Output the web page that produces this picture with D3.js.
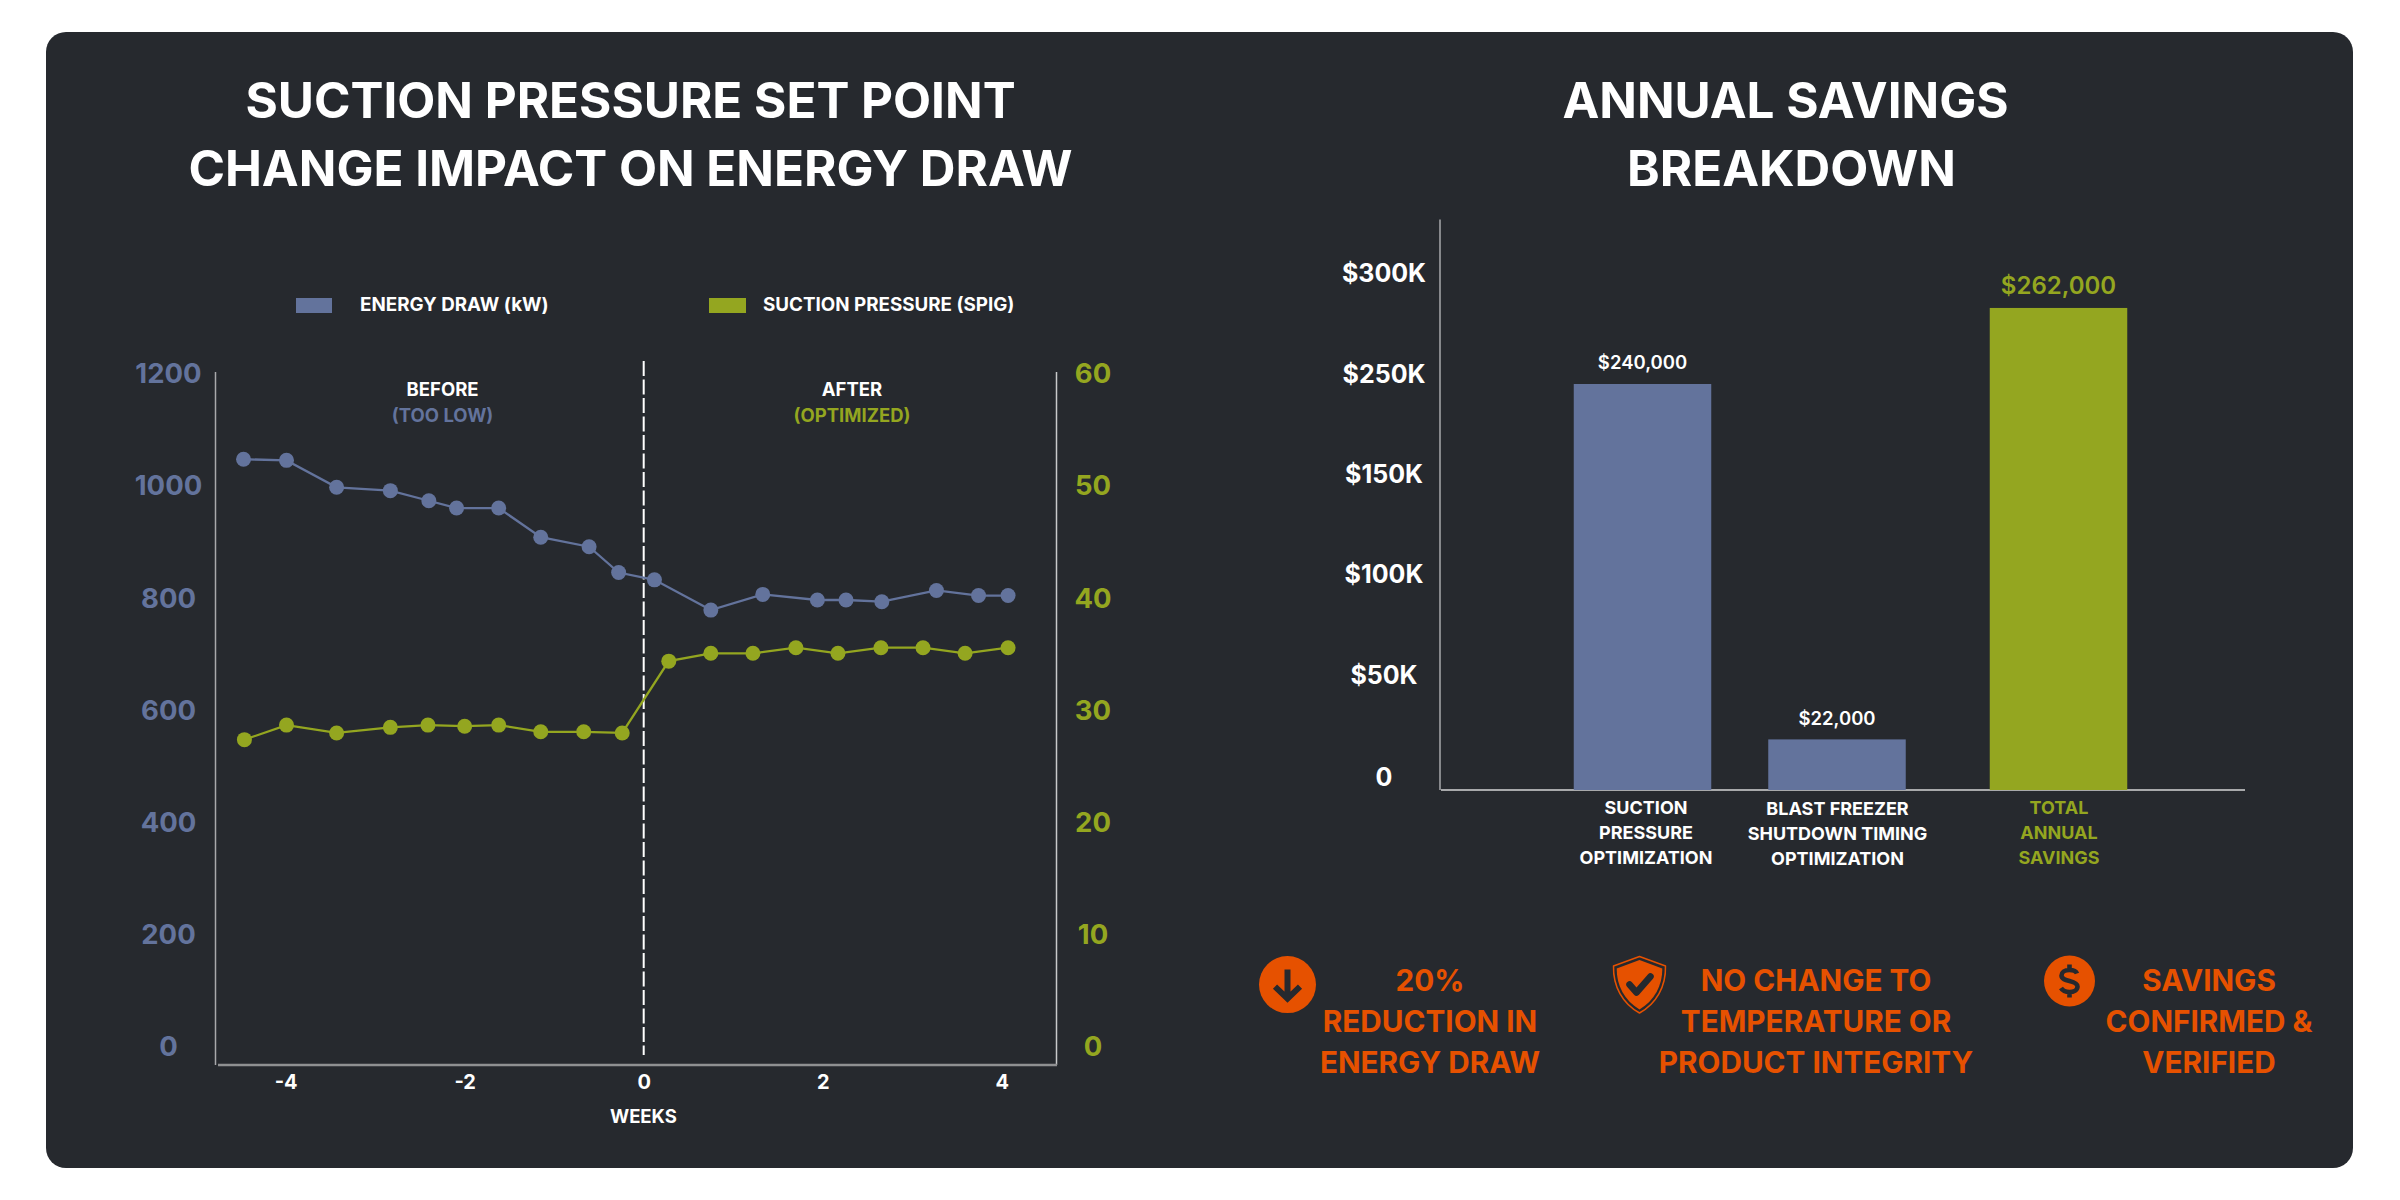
<!DOCTYPE html>
<html>
<head>
<meta charset="utf-8">
<script src="https://cdn.jsdelivr.net/npm/d3@7"></script>
<style>
  html, body { margin: 0; background: #fff; }
  svg { display: block; font-family: Inter, "Noto Sans", sans-serif; font-weight: 700; }
  .axis .domain { display: none; }
</style>
</head>
<body>
<div id="chart"></div>
<script>
// left chart: weeks, each series has its own sampling
const energyWeeks = [-4.47, -3.99, -3.43, -2.83, -2.40, -2.09, -1.62, -1.15, -0.61, -0.28, 0.12, 0.75, 1.33, 1.94, 2.26, 2.66, 3.27, 3.74, 4.07];
const energyValues = [1048, 1046, 998, 992, 974, 961, 961, 909, 892, 846, 833, 779, 807, 797, 797, 794, 814, 805, 805];
const pressureWeeks = [-4.46, -3.99, -3.43, -2.83, -2.41, -2.00, -1.62, -1.15, -0.67, -0.24, 0.28, 0.75, 1.22, 1.70, 2.17, 2.65, 3.12, 3.59, 4.07];
const pressureValues = [27.4, 28.7, 28.0, 28.5, 28.7, 28.6, 28.7, 28.1, 28.1, 28.0, 34.4, 35.1, 35.1, 35.6, 35.1, 35.6, 35.6, 35.1, 35.6];
const energyTicks = [0, 200, 400, 600, 800, 1000, 1200];
const pressureTicks = [0, 10, 20, 30, 40, 50, 60];
const weekTicks = [-4, -2, 0, 2, 4];

// right chart: the axis skips $200K, and the total bar stands taller than its label says
const barCategories = [["SUCTION", "PRESSURE", "OPTIMIZATION"], ["BLAST FREEZER", "SHUTDOWN TIMING", "OPTIMIZATION"], ["TOTAL", "ANNUAL", "SAVINGS"]];
const barHeights = [240000, 22000, 282700];
const barLabels = ["$240,000", "$22,000", "$262,000"];
const savingsTicks = [0, 50000, 100000, 150000, 250000, 300000];
const savingsTickLabels = ["0", "$50K", "$100K", "$150K", "$250K", "$300K"];

const notes = [["20%", "REDUCTION IN", "ENERGY DRAW"], ["NO CHANGE TO", "TEMPERATURE OR", "PRODUCT INTEGRITY"], ["SAVINGS", "CONFIRMED &", "VERIFIED"]];

const bg = "#26292e", blue = "#63739c", olive = "#94a620", orange = "#e65100", white = "#ffffff";

const svg = d3.select("#chart").append("svg").attr("width", 2400).attr("height", 1200);

svg.append("rect").attr("x", 46).attr("y", 32).attr("width", 2307).attr("height", 1136).attr("rx", 20).attr("fill", bg);

function lines(x, ys, rows, size, color, weight) {
  rows.forEach((t, i) => {
    svg.append("text").attr("x", x).attr("y", ys[i]).attr("dy", "0.36em")
      .attr("text-anchor", "middle").attr("font-size", size).attr("font-weight", weight || 700).attr("fill", color).text(t);
  });
}

lines(630.5, [100, 168], ["SUCTION PRESSURE SET POINT", "CHANGE IMPACT ON ENERGY DRAW"], 49.4, white);
lines(1785.5, [100], ["ANNUAL SAVINGS"], 49.4, white);
lines(1791.5, [168], ["BREAKDOWN"], 49.4, white);

// ---- left chart
const xWeek = d3.scaleLinear().domain([-4, 4]).range([285.6, 1001.8]);
const yEnergy = d3.scaleLinear().domain([0, 1200]).range([1047, 374]);
const yPressure = d3.scaleLinear().domain([0, 60]).range([1047, 374]);

const frame = svg.append("g").attr("fill", "none");
frame.append("path").attr("d", "M215.5,372V1065").attr("stroke", "#a8a9ab").attr("stroke-width", 1.5);
frame.append("path").attr("d", "M1056.5,372V1065").attr("stroke", "#c8c9cb").attr("stroke-width", 1.5);
frame.append("path").attr("d", "M218,1065H1057").attr("stroke", "#8f9092").attr("stroke-width", 2.5);

function axisText(g, size, color) {
  g.selectAll("text").attr("font-size", size).attr("fill", color).attr("text-anchor", "middle")
    .attr("font-family", "Inter").attr("font-weight", 700).attr("x", 0);
}

svg.append("g").attr("class", "axis").attr("transform", "translate(168.5,0)")
  .call(d3.axisLeft(yEnergy).tickValues(energyTicks).tickSize(0).tickPadding(0).tickFormat(String))
  .call(axisText, 27.5, blue);
svg.append("g").attr("class", "axis").attr("transform", "translate(1093,0)")
  .call(d3.axisRight(yPressure).tickValues(pressureTicks).tickSize(0).tickPadding(0).tickFormat(String))
  .call(axisText, 27.5, olive);
svg.append("g").attr("class", "axis").attr("transform", "translate(0,1068)")
  .call(d3.axisBottom(xWeek).tickValues(weekTicks).tickSize(0).tickPadding(7).tickFormat(String))
  .call(g => g.selectAll("text").attr("font-size", 20).attr("fill", white).attr("font-family", "Inter").attr("font-weight", 700));
d3.selectAll(".axis .tick line").remove();

lines(643.4, [1116], ["WEEKS"], 18.5, white);

svg.append("path").attr("d", `M${xWeek(0)},361V1055`).attr("stroke", white).attr("stroke-width", 2).attr("stroke-dasharray", "15,3.5").attr("fill", "none");

lines(442.6, [389], ["BEFORE"], 18.5, white);
lines(442.6, [415], ["(TOO LOW)"], 18.5, blue);
lines(852, [389], ["AFTER"], 18.5, white);
lines(852, [415], ["(OPTIMIZED)"], 18.5, olive);

svg.append("rect").attr("x", 296).attr("y", 298).attr("width", 36).attr("height", 15).attr("fill", blue);
svg.append("rect").attr("x", 709).attr("y", 298).attr("width", 37).attr("height", 15).attr("fill", olive);
svg.append("text").attr("x", 360).attr("y", 304).attr("dy", "0.36em").attr("font-size", 18.8).attr("fill", white).text("ENERGY DRAW (kW)");
svg.append("text").attr("x", 763).attr("y", 304).attr("dy", "0.36em").attr("font-size", 18.8).attr("fill", white).text("SUCTION PRESSURE (SPIG)");

function series(weeks, values, y, color) {
  const pts = weeks.map((w, i) => [w, values[i]]);
  const line = d3.line().x(d => xWeek(d[0])).y(d => y(d[1]));
  svg.append("path").datum(pts).attr("d", line).attr("fill", "none").attr("stroke", color).attr("stroke-width", 2.3);
  svg.append("g").selectAll("circle").data(pts).enter().append("circle")
    .attr("cx", d => xWeek(d[0])).attr("cy", d => y(d[1])).attr("r", 7.5).attr("fill", color);
}
series(energyWeeks, energyValues, yEnergy, blue);
series(pressureWeeks, pressureValues, yPressure, olive);

// ---- right chart
const xBar = d3.scaleOrdinal().domain([0, 1, 2]).range([1642.5, 1837, 2058.5]);
const barWidth = 137.5;
const ySavings = d3.scaleLinear().domain(savingsTicks).range([790, 675, 574, 474, 374, 273]);

svg.append("path").attr("d", "M1440,219.5V790").attr("stroke", "#c8c9cb").attr("stroke-width", 1.2).attr("fill", "none");
svg.append("path").attr("d", "M1441,790H2245").attr("stroke", "#a8a9ab").attr("stroke-width", 2).attr("fill", "none");

const savingsAxis = svg.append("g").attr("class", "axis").attr("transform", "translate(1384,0)")
  .call(d3.axisLeft(ySavings).tickValues(savingsTicks).tickSize(0).tickPadding(0).tickFormat((d, i) => savingsTickLabels[i]))
  .call(axisText, 25, white);
savingsAxis.selectAll(".tick line").remove();
// the zero label sits above the baseline
savingsAxis.selectAll(".tick").filter(d => d === 0).select("text").attr("y", -13);

svg.append("g").selectAll("rect").data(barHeights).enter().append("rect")
  .attr("x", (d, i) => xBar(i) - barWidth / 2)
  .attr("y", d => ySavings(d))
  .attr("width", barWidth)
  .attr("height", d => ySavings(0) - ySavings(d))
  .attr("fill", (d, i) => i === 2 ? olive : blue);

barLabels.forEach((t, i) => {
  const total = i === 2;
  lines(xBar(i), [ySavings(barHeights[i]) - (total ? 22.5 : 21.5)], [t], total ? 24 : 18.5, total ? olive : white, 600);
});

lines(1646, [807.6, 832.7, 857.5], barCategories[0], 18, white);
lines(1837.5, [808.4, 833.6, 858.3], barCategories[1], 18, white);
lines(2059, [807.6, 832.7, 857.5], barCategories[2], 18, olive);

// ---- callouts
lines(1430, [980.5, 1021, 1062], notes[0], 29.7, orange);
lines(1816, [980.5, 1021, 1062], notes[1], 29.7, orange);
lines(2209, [980.5, 1021, 1062], notes[2], 29.7, orange);

const arrowIcon = svg.append("g").attr("transform", "translate(1287.5,984.6)");
arrowIcon.append("circle").attr("r", 28.5).attr("fill", orange);
arrowIcon.append("path").attr("d", "M0,-15V13M-12.5,2L0,14L12.5,2").attr("fill", "none").attr("stroke", bg).attr("stroke-width", 6);

const shieldIcon = svg.append("g").attr("transform", "translate(1639.5,984.5)");
shieldIcon.append("path").attr("d", "M0,-28L26,-18.5C26.5,2 17,19 0,28.5C-17,19 -26.5,2 -26,-18.5Z").attr("fill", "none").attr("stroke", orange).attr("stroke-width", 1.5).attr("stroke-linejoin", "round");
shieldIcon.append("path").attr("d", "M0,-24.5L22.8,-16C23,1 15,16 0,25C-15,16 -23,1 -22.8,-16Z").attr("fill", orange);
shieldIcon.append("path").attr("d", "M-10,0L-3,8L11,-8").attr("fill", "none").attr("stroke", bg).attr("stroke-width", 6.5).attr("stroke-linecap", "round").attr("stroke-linejoin", "round");

const dollarIcon = svg.append("g").attr("transform", "translate(2069.5,981)");
dollarIcon.append("circle").attr("r", 25.5).attr("fill", orange);
dollarIcon.append("path").attr("d", "M7.5,-7.5C6.5,-10 3.5,-11 0,-11C-5,-11 -8,-8.5 -8,-5.5C-8,-2 -4,-1 0,0C4,1 8,2.2 8,5.5C8,8.8 4.5,11 0,11C-4,11 -7,9.5 -8.5,7M0,-16.5V-11M0,11V16.5").attr("fill", "none").attr("stroke", bg).attr("stroke-width", 4.6);
</script>
</body>
</html>
